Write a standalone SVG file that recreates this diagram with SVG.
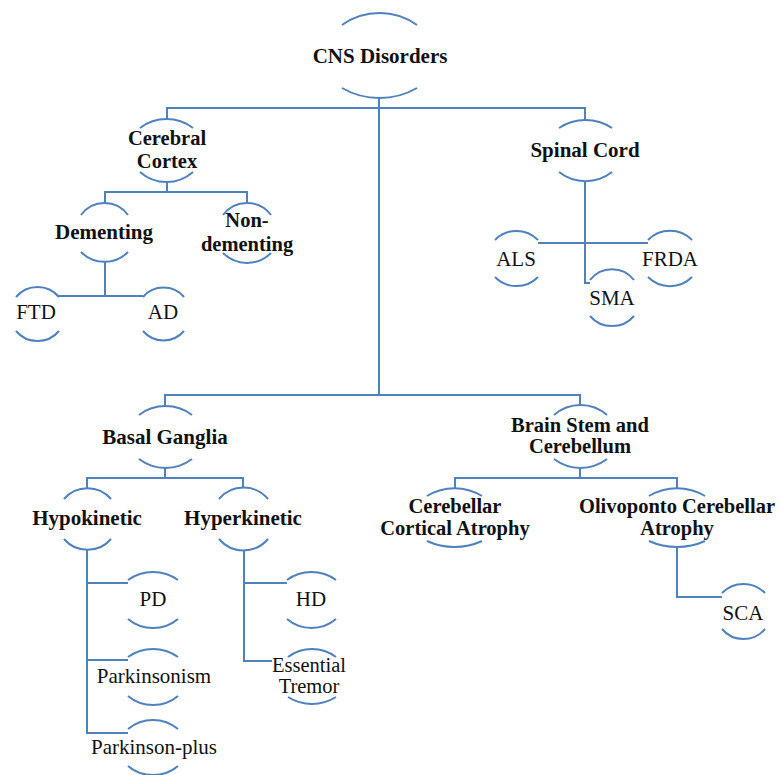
<svg xmlns="http://www.w3.org/2000/svg" width="780" height="775" viewBox="0 0 780 775">
  <rect width="780" height="775" fill="#ffffff"/>

  <!-- connectors -->
  <g id="connectors" fill="none" stroke="#4f81bd" stroke-width="2">
    <path d="M379,98 V395"/>
    <path d="M167,119 V108 H585 V120"/>
    <path d="M165,406 V395 H580 V405"/>
    <path d="M167,182 V192"/>
    <path d="M105,203 V192 H247 V203"/>
    <path d="M105,262 V296"/>
    <path d="M58,296 H143"/>
    <path d="M585,181 V283 H590"/>
    <path d="M538,243 H648"/>
    <path d="M165,468 V478"/>
    <path d="M87,488 V478 H243 V488"/>
    <path d="M580,468 V478"/>
    <path d="M455,488 V478 H677 V488"/>
    <path d="M87,550 V733 H128"/>
    <path d="M87,583 H128"/>
    <path d="M87,660 H128"/>
    <path d="M244,550 V661 H272"/>
    <path d="M244,583 H287"/>
    <path d="M677,547 V597 H722"/>
  </g>

  <!-- nodes: a pair of arcs framing each label; arcs inherit the stroke, labels the font -->
  <g id="nodes" font-family="Liberation Serif, serif" font-size="21" text-anchor="middle" stroke="#4f81bd" stroke-width="2">
  <g id="cns">
    <path fill="none" d="M342,25 A65,65 0 0 1 417,25"/>
    <path fill="none" d="M342,88 A75,75 0 0 0 417,88"/>
    <text stroke="none" fill="#111" font-weight="bold" x="380" y="63">CNS Disorders</text>
  </g>
  <g id="cerebral-cortex">
    <path fill="none" d="M140,128 A44,44 0 0 1 193,128"/>
    <path fill="none" d="M140,172 A40,40 0 0 0 193,172"/>
    <text stroke="none" fill="#111" font-weight="bold" font-size="20.5" x="167" y="145">Cerebral</text>
    <text stroke="none" fill="#111" font-weight="bold" font-size="20.5" x="167" y="168">Cortex</text>
  </g>
  <g id="spinal-cord">
    <path fill="none" d="M559,128 A48,48 0 0 1 612,128"/>
    <path fill="none" d="M559,172 A43,43 0 0 0 612,172"/>
    <text stroke="none" fill="#111" font-weight="bold" x="585" y="157">Spinal Cord</text>
  </g>
  <g id="dementing">
    <path fill="none" d="M81,215 A29,29 0 0 1 128,215"/>
    <path fill="none" d="M81,252 A33,33 0 0 0 128,252"/>
    <text stroke="none" fill="#111" font-weight="bold" x="104" y="239">Dementing</text>
  </g>
  <g id="non-dementing">
    <path fill="none" d="M223,215 A30,30 0 0 1 271,215"/>
    <path fill="none" d="M223,253 A34,34 0 0 0 271,253"/>
    <text stroke="none" fill="#111" font-weight="bold" font-size="20.5" x="247" y="227">Non-</text>
    <text stroke="none" fill="#111" font-weight="bold" font-size="20.5" x="247" y="251">dementing</text>
  </g>
  <g id="ftd">
    <path fill="none" d="M16,297 A28,28 0 0 1 59,297"/>
    <path fill="none" d="M16,331 A28,28 0 0 0 59,331"/>
    <text stroke="none" fill="#111" x="36" y="319">FTD</text>
  </g>
  <g id="ad">
    <path fill="none" d="M143,297 A27,27 0 0 1 184,297"/>
    <path fill="none" d="M143,331 A27,27 0 0 0 184,331"/>
    <text stroke="none" fill="#111" x="163" y="319">AD</text>
  </g>
  <g id="als">
    <path fill="none" d="M495,240 A30,30 0 0 1 538,240"/>
    <path fill="none" d="M495,277 A30,30 0 0 0 538,277"/>
    <text stroke="none" fill="#111" x="516" y="266">ALS</text>
  </g>
  <g id="frda">
    <path fill="none" d="M648,240 A31,31 0 0 1 692,240"/>
    <path fill="none" d="M648,277 A31,31 0 0 0 692,277"/>
    <text stroke="none" fill="#111" x="670" y="266">FRDA</text>
  </g>
  <g id="sma">
    <path fill="none" d="M590,280 A28,28 0 0 1 634,280"/>
    <path fill="none" d="M590,316 A29,29 0 0 0 634,316"/>
    <text stroke="none" fill="#111" x="612" y="305">SMA</text>
  </g>
  <g id="basal-ganglia">
    <path fill="none" d="M139,415 A44,44 0 0 1 192,415"/>
    <path fill="none" d="M139,459 A44,44 0 0 0 192,459"/>
    <text stroke="none" fill="#111" font-weight="bold" x="165" y="444">Basal Ganglia</text>
  </g>
  <g id="brain-stem">
    <path fill="none" d="M554,415 A40,40 0 0 1 607,415"/>
    <path fill="none" d="M554,459 A44,44 0 0 0 607,459"/>
    <text stroke="none" fill="#111" font-weight="bold" font-size="20.5" x="580" y="432">Brain Stem and</text>
    <text stroke="none" fill="#111" font-weight="bold" font-size="20.5" x="580" y="453">Cerebellum</text>
  </g>
  <g id="hypokinetic">
    <path fill="none" d="M64,499 A31,31 0 0 1 111,499"/>
    <path fill="none" d="M64,539 A31,31 0 0 0 111,539"/>
    <text stroke="none" fill="#111" font-weight="bold" x="87" y="525">Hypokinetic</text>
  </g>
  <g id="hyperkinetic">
    <path fill="none" d="M219,499 A32,32 0 0 1 268,499"/>
    <path fill="none" d="M219,539 A32,32 0 0 0 268,539"/>
    <text stroke="none" fill="#111" font-weight="bold" x="243" y="525">Hyperkinetic</text>
  </g>
  <g id="cerebellar-cortical-atrophy">
    <path fill="none" d="M427,496 A52,52 0 0 1 482,496"/>
    <path fill="none" d="M427,541 A66,66 0 0 0 482,541"/>
    <text stroke="none" fill="#111" font-weight="bold" font-size="20.5" x="455" y="513">Cerebellar</text>
    <text stroke="none" fill="#111" font-weight="bold" font-size="20.5" x="455" y="535">Cortical Atrophy</text>
  </g>
  <g id="olivoponto-cerebellar-atrophy">
    <path fill="none" d="M649,496 A54,54 0 0 1 705,496"/>
    <path fill="none" d="M649,541 A68,68 0 0 0 705,541"/>
    <text stroke="none" fill="#111" font-weight="bold" font-size="20.5" x="677" y="513">Olivoponto Cerebellar</text>
    <text stroke="none" fill="#111" font-weight="bold" font-size="20.5" x="677" y="535">Atrophy</text>
  </g>
  <g id="pd">
    <path fill="none" d="M128,580 A43,43 0 0 1 178,580"/>
    <path fill="none" d="M128,619 A39,39 0 0 0 178,619"/>
    <text stroke="none" fill="#111" x="153" y="606">PD</text>
  </g>
  <g id="parkinsonism">
    <path fill="none" d="M128,657 A43,43 0 0 1 178,657"/>
    <path fill="none" d="M128,696 A39,39 0 0 0 178,696"/>
    <text stroke="none" fill="#111" x="154" y="683">Parkinsonism</text>
  </g>
  <g id="parkinson-plus">
    <path fill="none" d="M128,729 A39,39 0 0 1 178,729"/>
    <path fill="none" d="M128,766 A39,39 0 0 0 178,766"/>
    <text stroke="none" fill="#111" x="154" y="754">Parkinson-plus</text>
  </g>
  <g id="hd">
    <path fill="none" d="M287,580 A42,42 0 0 1 336,580"/>
    <path fill="none" d="M287,619 A38,38 0 0 0 336,619"/>
    <text stroke="none" fill="#111" x="311" y="606">HD</text>
  </g>
  <g id="essential-tremor">
    <path fill="none" d="M288,657 A40,40 0 0 1 336,657"/>
    <path fill="none" d="M288,697 A45,45 0 0 0 336,697"/>
    <text stroke="none" fill="#111" font-size="20.5" x="309" y="672">Essential</text>
    <text stroke="none" fill="#111" font-size="20.5" x="309" y="693">Tremor</text>
  </g>
  <g id="sca">
    <path fill="none" d="M722,593 A30,30 0 0 1 765,593"/>
    <path fill="none" d="M722,629 A28,28 0 0 0 765,629"/>
    <text stroke="none" fill="#111" x="743" y="620">SCA</text>
  </g>
  </g>
</svg>
